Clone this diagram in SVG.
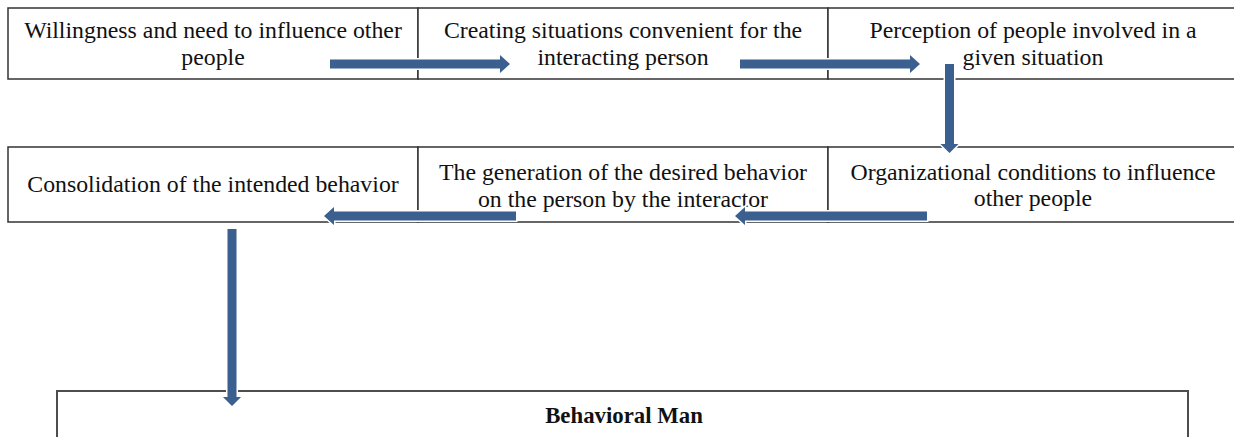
<svg xmlns="http://www.w3.org/2000/svg" width="1234" height="437" viewBox="0 0 1234 437">
<defs>
<style>
.t{font-family:"Liberation Serif","Times New Roman",serif;font-size:23.8px;fill:#111;text-anchor:middle}
.b{font-family:"Liberation Serif","Times New Roman",serif;font-size:22.8px;font-weight:bold;fill:#111;text-anchor:middle}
.cell{fill:#fff;stroke:#333;stroke-width:1.5}
.arr{fill:#3b5f8e;stroke:#fff;stroke-width:3;stroke-linejoin:miter;paint-order:stroke fill}
</style>
</defs>
<rect width="1234" height="437" fill="#fff"/>
<g id="row1">
<g id="n1"><rect class="cell" x="8" y="8" width="410" height="71"/><text class="t" x="213" y="38">Willingness and need to influence other</text><text class="t" x="213" y="65">people</text></g>
<g id="n2"><rect class="cell" x="418" y="8" width="410" height="71"/><text class="t" x="623" y="38">Creating situations convenient for the</text><text class="t" x="623" y="65">interacting person</text></g>
<g id="n3"><rect class="cell" x="828" y="8" width="410" height="71"/><text class="t" x="1033" y="38">Perception of people involved in a</text><text class="t" x="1033" y="65">given situation</text></g>
</g>
<g id="row2">
<g id="n6"><rect class="cell" x="8" y="147" width="410" height="75"/><text class="t" x="213" y="192">Consolidation of the intended behavior</text></g>
<g id="n5"><rect class="cell" x="418" y="147" width="410" height="75"/><text class="t" x="623" y="180">The generation of the desired behavior</text><text class="t" x="623" y="207">on the person by the interactor</text></g>
<g id="n4"><rect class="cell" x="828" y="147" width="410" height="75"/><text class="t" x="1033" y="180">Organizational conditions to influence</text><text class="t" x="1033" y="206">other people</text></g>
</g>
<g id="n7"><rect x="57" y="391" width="1131" height="60" fill="#fff" stroke="#4d4d4d" stroke-width="2"/><text class="b" x="624" y="423">Behavioral Man</text></g>
<g id="connectors">
<path class="arr" d="M330 59.5 H500 V55 L510 64 L500 73 V68.5 H330 Z"/>
<path class="arr" d="M740 59.5 H910 V55 L920 64 L910 73 V68.5 H740 Z"/>
<path class="arr" d="M945 64 V144 H940.5 L949.5 153 L958.5 144 H954 V64 Z"/>
<path class="arr" d="M927 211.5 H745 V207 L735 216 L745 225 V220.5 H927 Z"/>
<path class="arr" d="M516 211.5 H334 V207 L324 216 L334 225 V220.5 H516 Z"/>
<path class="arr" d="M227.5 229 V397 H223 L232 406 L241 397 H236.5 V229 Z"/>
</g>
</svg>
